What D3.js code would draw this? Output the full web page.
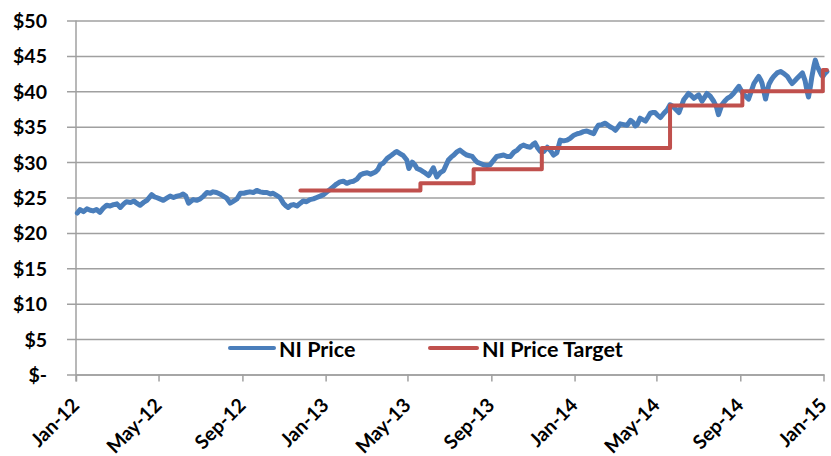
<!DOCTYPE html>
<html>
<head>
<meta charset="utf-8">
<script src="https://cdn.jsdelivr.net/npm/d3@7"></script>
<style>
  body { margin: 0; background: #fff; }
  text { font-family: Lato, "Open Sans", sans-serif; font-weight: bold; fill: #000; }
</style>
</head>
<body>
<svg id="chart" width="831" height="456"></svg>
<script>
// NI daily closing price
const priceDates = [
  "2012-01-03","2012-01-07","2012-01-12","2012-01-17","2012-01-22","2012-01-26","2012-01-31","2012-02-05","2012-02-10","2012-02-15",
  "2012-02-20","2012-02-25","2012-03-01","2012-03-06","2012-03-11","2012-03-15","2012-03-21","2012-03-26","2012-03-30","2012-04-04",
  "2012-04-09","2012-04-14","2012-04-21","2012-04-25","2012-04-28","2012-05-03","2012-05-08","2012-05-13","2012-05-18","2012-05-23",
  "2012-05-28","2012-06-02","2012-06-06","2012-06-10","2012-06-14","2012-06-18","2012-06-21","2012-06-26","2012-07-01","2012-07-06",
  "2012-07-11","2012-07-16","2012-07-20","2012-07-25","2012-07-30","2012-08-04","2012-08-09","2012-08-14","2012-08-19","2012-08-24",
  "2012-08-29","2012-09-03","2012-09-07","2012-09-12","2012-09-17","2012-09-22","2012-09-27","2012-10-02","2012-10-07","2012-10-12",
  "2012-10-16","2012-10-21","2012-10-26","2012-10-31","2012-11-04","2012-11-07","2012-11-11","2012-11-15","2012-11-20","2012-11-25",
  "2012-11-29","2012-12-04","2012-12-09","2012-12-14","2012-12-19","2012-12-24","2012-12-29","2013-01-03","2013-01-07","2013-01-12",
  "2013-01-17","2013-01-22","2013-01-27","2013-02-01","2013-02-06","2013-02-11","2013-02-16","2013-02-21","2013-02-26","2013-03-03",
  "2013-03-08","2013-03-15","2013-03-19","2013-03-22","2013-03-27","2013-04-01","2013-04-05","2013-04-08","2013-04-12","2013-04-15",
  "2013-04-20","2013-04-25","2013-04-30","2013-05-03","2013-05-08","2013-05-12","2013-05-15","2013-05-20","2013-05-25","2013-06-01",
  "2013-06-05","2013-06-08","2013-06-13","2013-06-18","2013-06-23","2013-06-30","2013-07-04","2013-07-08","2013-07-12","2013-07-17",
  "2013-07-22","2013-07-27","2013-07-31","2013-08-04","2013-08-08","2013-08-11","2013-08-16","2013-08-21","2013-08-26","2013-08-30",
  "2013-09-04","2013-09-09","2013-09-14","2013-09-19","2013-09-24","2013-09-29","2013-10-04","2013-10-09","2013-10-14","2013-10-18",
  "2013-10-23","2013-10-28","2013-11-01","2013-11-04","2013-11-08","2013-11-12","2013-11-17","2013-11-22","2013-11-27","2013-12-01",
  "2013-12-06","2013-12-11","2013-12-16","2013-12-21","2013-12-26","2013-12-31","2014-01-05","2014-01-09","2014-01-14","2014-01-19",
  "2014-01-24","2014-01-29","2014-02-02","2014-02-05","2014-02-10","2014-02-15","2014-02-22","2014-02-26","2014-03-02","2014-03-06",
  "2014-03-09","2014-03-14","2014-03-19","2014-03-24","2014-03-28","2014-03-31","2014-04-03","2014-04-07","2014-04-11","2014-04-15",
  "2014-04-19","2014-04-22","2014-04-26","2014-04-29","2014-05-03","2014-05-07","2014-05-12","2014-05-17","2014-05-21","2014-05-25",
  "2014-05-30","2014-06-03","2014-06-07","2014-06-10","2014-06-14","2014-06-17","2014-06-21","2014-06-25","2014-06-29","2014-07-02",
  "2014-07-07","2014-07-11","2014-07-14","2014-07-19","2014-07-24","2014-07-28","2014-07-31","2014-08-05","2014-08-09","2014-08-13",
  "2014-08-18","2014-08-22","2014-08-26","2014-08-30","2014-09-03","2014-09-06","2014-09-10","2014-09-13","2014-09-17","2014-09-21",
  "2014-09-25","2014-09-28","2014-10-01","2014-10-03","2014-10-06","2014-10-08","2014-10-11","2014-10-13","2014-10-17","2014-10-20",
  "2014-10-25","2014-10-30","2014-11-04","2014-11-09","2014-11-13","2014-11-16","2014-11-20","2014-11-23","2014-11-27","2014-12-01",
  "2014-12-05","2014-12-08","2014-12-10","2014-12-13","2014-12-15","2014-12-18","2014-12-20","2014-12-23","2014-12-26","2014-12-29",
  "2014-12-31","2015-01-03","2015-01-06"
];
const priceValues = [
  22.8,23.3,23.0,23.4,23.2,23.1,23.3,22.9,23.5,23.9,
  23.8,24.0,24.1,23.6,24.1,24.4,24.3,24.5,24.2,23.9,
  24.3,24.6,25.4,25.1,25.0,24.8,24.6,24.9,25.2,25.0,
  25.2,25.3,25.5,25.2,24.2,24.5,24.7,24.6,24.8,25.2,
  25.7,25.6,25.8,25.7,25.5,25.2,24.9,24.2,24.5,24.8,
  25.6,25.6,25.7,25.8,25.7,26.0,25.8,25.7,25.7,25.5,
  25.6,25.3,25.0,24.2,23.8,23.6,23.9,24.0,23.8,24.2,
  24.5,24.4,24.7,24.8,25.0,25.2,25.4,25.8,26.1,26.5,
  26.9,27.2,27.3,27.0,27.2,27.3,27.6,28.2,28.4,28.5,
  28.3,28.6,29.0,29.6,29.9,30.5,30.8,31.0,31.3,31.5,
  31.2,30.9,30.3,29.1,30.0,29.6,29.1,28.9,28.6,28.1,
  28.7,29.2,27.9,28.5,28.8,30.3,30.7,31.0,31.4,31.7,
  31.3,31.0,30.9,30.8,30.3,30.0,29.8,29.6,29.5,29.6,
  30.2,30.8,30.9,31.0,30.8,30.8,31.4,31.7,32.2,32.4,
  32.2,32.1,32.5,32.7,32.0,31.5,31.5,32.1,31.6,31.0,
  31.3,33.1,33.0,33.1,33.4,33.8,34.0,34.1,34.3,34.4,
  34.2,34.0,34.8,35.2,35.3,35.5,35.0,34.8,34.5,35.0,
  35.4,35.3,35.2,35.9,35.6,35.1,35.3,36.2,36.0,35.8,
  36.4,36.9,37.0,37.0,36.6,36.3,36.9,37.4,38.1,37.9,
  37.4,37.0,38.0,38.8,39.3,39.7,39.4,39.0,39.3,39.5,
  38.6,39.2,39.7,39.3,38.6,37.8,36.7,38.1,38.6,39.0,
  39.3,39.7,40.2,40.7,40.0,39.5,39.2,38.9,40.0,41.1,
  41.7,42.1,41.6,41.1,39.8,38.9,40.2,41.0,41.7,42.1,
  42.6,42.8,42.5,42.1,41.5,41.1,41.5,41.8,42.2,42.6,
  41.5,40.0,39.2,40.8,42.1,43.6,44.4,43.5,42.9,42.3,
  42.1,42.5,42.8
];

// analyst price target, changes on these dates
const targetDates = ["2012-11-25","2013-05-20","2013-08-06","2013-11-14","2014-05-21","2014-09-04","2014-12-31","2015-01-06"];
const targetValues = [26, 27, 29, 32, 38, 40, 43, 43];

const yTicks = [0, 5, 10, 15, 20, 25, 30, 35, 40, 45, 50];
const xTickDates = ["2012-01-01","2012-05-01","2012-09-01","2013-01-01","2013-05-01","2013-09-01",
                    "2014-01-01","2014-05-01","2014-09-01","2015-01-01"];
const seriesNames = ["NI Price", "NI Price Target"];
const seriesColors = ["#4a7ebb", "#c0504d"];

const parse = d3.timeParse("%Y-%m-%d");
const price = priceDates.map((d, i) => ({ date: parse(d), value: priceValues[i] }));
const target = targetDates.map((d, i) => ({ date: parse(d), value: targetValues[i] }));

const plotLeft = 76, plotRight = 823.5, plotTop = 20.5, plotBottom = 374.5;
const svg = d3.select("#chart");

const x = d3.scaleTime()
  .domain([parse("2012-01-01"), parse("2015-01-01")])
  .range([plotLeft, plotRight]);
const y = d3.scaleLinear().domain([0, 50]).range([plotBottom, plotTop]);

// gridlines + y labels
const yAxis = svg.append("g")
  .attr("transform", `translate(${plotLeft - 9},0)`)
  .call(d3.axisLeft(y).tickValues(yTicks)
    .tickSizeInner(-(plotRight - plotLeft + 10)).tickSizeOuter(0).tickPadding(20)
    .tickFormat(d => d === 0 ? "$-" : "$" + d));
yAxis.select(".domain").remove();
yAxis.selectAll(".tick line").attr("stroke", "#a0a0a0").attr("stroke-width", 1.5);
yAxis.selectAll("text").style("font-size", "19.5px").attr("dy", "0.36em");

// x axis
const xAxis = svg.append("g")
  .attr("transform", `translate(0,${plotBottom})`)
  .call(d3.axisBottom(x).tickValues(xTickDates.map(parse))
    .tickSizeInner(7).tickSizeOuter(0)
    .tickFormat(d3.timeFormat("%b-%y")));
xAxis.select(".domain").attr("stroke", "#a0a0a0").attr("stroke-width", 1.5);
xAxis.selectAll(".tick line").attr("stroke", "#a0a0a0").attr("stroke-width", 1.5);
xAxis.selectAll("text")
  .style("font-size", "19.5px")
  .style("text-anchor", "end")
  .attr("x", 0).attr("y", 0).attr("dy", 0)
  .attr("transform", "translate(4,32) rotate(-45)");

// vertical axis line
svg.append("line")
  .attr("x1", plotLeft).attr("x2", plotLeft)
  .attr("y1", plotTop).attr("y2", plotBottom + 7)
  .attr("stroke", "#a0a0a0").attr("stroke-width", 1.5);

const line = d3.line().x(d => x(d.date)).y(d => y(d.value));

svg.append("path")
  .datum(price)
  .attr("fill", "none")
  .attr("stroke", seriesColors[0])
  .attr("stroke-width", 5)
  .attr("stroke-linejoin", "round")
  .attr("stroke-linecap", "round")
  .attr("d", line);

svg.append("path")
  .datum(target)
  .attr("fill", "none")
  .attr("stroke", seriesColors[1])
  .attr("stroke-width", 4)
  .attr("stroke-linejoin", "round")
  .attr("stroke-linecap", "round")
  .attr("d", line.curve(d3.curveStepAfter));

// legend
const legendX = [230, 430];
const legendLen = [44, 47];
const legend = svg.append("g");
seriesNames.forEach((name, i) => {
  legend.append("line")
    .attr("x1", legendX[i]).attr("x2", legendX[i] + legendLen[i])
    .attr("y1", 348).attr("y2", 348)
    .attr("stroke", seriesColors[i]).attr("stroke-width", 4)
    .attr("stroke-linecap", "round");
  legend.append("text")
    .attr("x", legendX[i] + legendLen[i] + 5).attr("y", 357)
    .style("font-size", "21.5px")
    .text(name);
});
</script>
</body>
</html>
